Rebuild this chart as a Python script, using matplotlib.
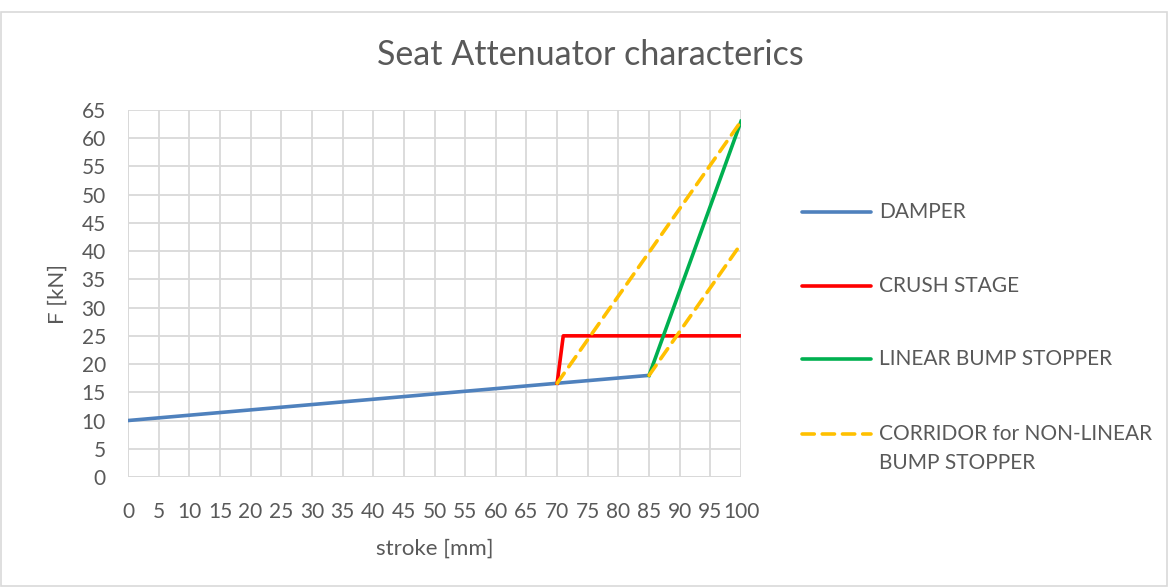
import matplotlib.pyplot as plt
from matplotlib.lines import Line2D
from matplotlib.patches import Rectangle

plt.rcParams['font.family'] = ['Lato', 'DejaVu Sans']

# Daten
damper_x = [0, 70, 85]
damper_y = [10, 16.6, 18]
crush_x = [70, 71, 100]
crush_y = [16.6, 25, 25]
bump_x = [85, 100]
bump_y = [18, 63]
corr_upper_x = [70, 100]
corr_upper_y = [16.6, 63]
corr_lower_x = [85, 100]
corr_lower_y = [18, 41.3]

labels = ["DAMPER", "CRUSH STAGE", "LINEAR BUMP STOPPER",
          "CORRIDOR for NON-LINEAR\nBUMP STOPPER"]
colors = ["#4F81BD", "#FF0000", "#00B050", "#FFC000"]

x_ticks = list(range(0, 101, 5))
y_ticks = list(range(0, 66, 5))

txt = "#595959"
grid = "#D9D9D9"

fig = plt.figure(figsize=(11.69, 5.87), dpi=100)
ax = fig.add_axes([0.1095, 0.1874, 0.5244, 0.6252])

lw = 2.6
ax.plot(damper_x, damper_y, color=colors[0], lw=lw, solid_capstyle="round", zorder=3)
ax.plot(crush_x, crush_y, color=colors[1], lw=lw, zorder=3)
ax.plot(bump_x, bump_y, color=colors[2], lw=lw, zorder=3)
for xs, ys in [(corr_upper_x, corr_upper_y), (corr_lower_x, corr_lower_y)]:
    ax.plot(xs, ys, color=colors[3], lw=lw, dashes=(3.4, 2.2),
            dash_capstyle="round", zorder=4)

ax.set_xlim(0, 100)
ax.set_ylim(0, 65)
ax.set_xticks(x_ticks)
ax.set_yticks(y_ticks)
ax.grid(True, color=grid, lw=1.3)
ax.set_axisbelow(True)
for s in ax.spines.values():
    s.set_visible(False)
ax.axhline(0, color=grid, lw=1.3, zorder=1)
ax.axvline(0, color=grid, lw=1.3, zorder=1)
ax.tick_params(length=0, labelsize=15, colors=txt)
ax.tick_params(axis="y", pad=16)
ax.tick_params(axis="x", pad=18)

ax.set_xlabel("stroke [mm]", fontsize=16, color=txt, labelpad=12)
ax.set_ylabel("F [kN]", fontsize=16, color=txt, labelpad=10)
fig.text(0.505, 0.906, "Seat Attenuator characterics", fontsize=24.5,
         color=txt, ha="center", va="center")

# Legende
leg_y = [212, 286, 359, 434]
for lab, col, yy in zip(labels, colors, leg_y):
    yf = 1 - yy / 587
    if lab.startswith("CORRIDOR"):
        ln = Line2D([802 / 1169, 871 / 1169], [yf, yf], color=col, lw=lw,
                    dashes=(3.4, 2.2), dash_capstyle="round")
    else:
        ln = Line2D([802 / 1169, 871 / 1169], [yf, yf], color=col, lw=lw,
                    solid_capstyle="round")
    fig.add_artist(ln)
    for k, part in enumerate(lab.split("\n")):
        fig.text(879 / 1169, yf - k * 29 / 587, part, fontsize=15, color=txt,
                 ha="left", va="center")

fig.add_artist(Rectangle((0.001, 0.002), 0.997, 0.978, transform=fig.transFigure,
                         fill=False, edgecolor=grid, lw=1.2))

fig.savefig("out.png", dpi=100)
